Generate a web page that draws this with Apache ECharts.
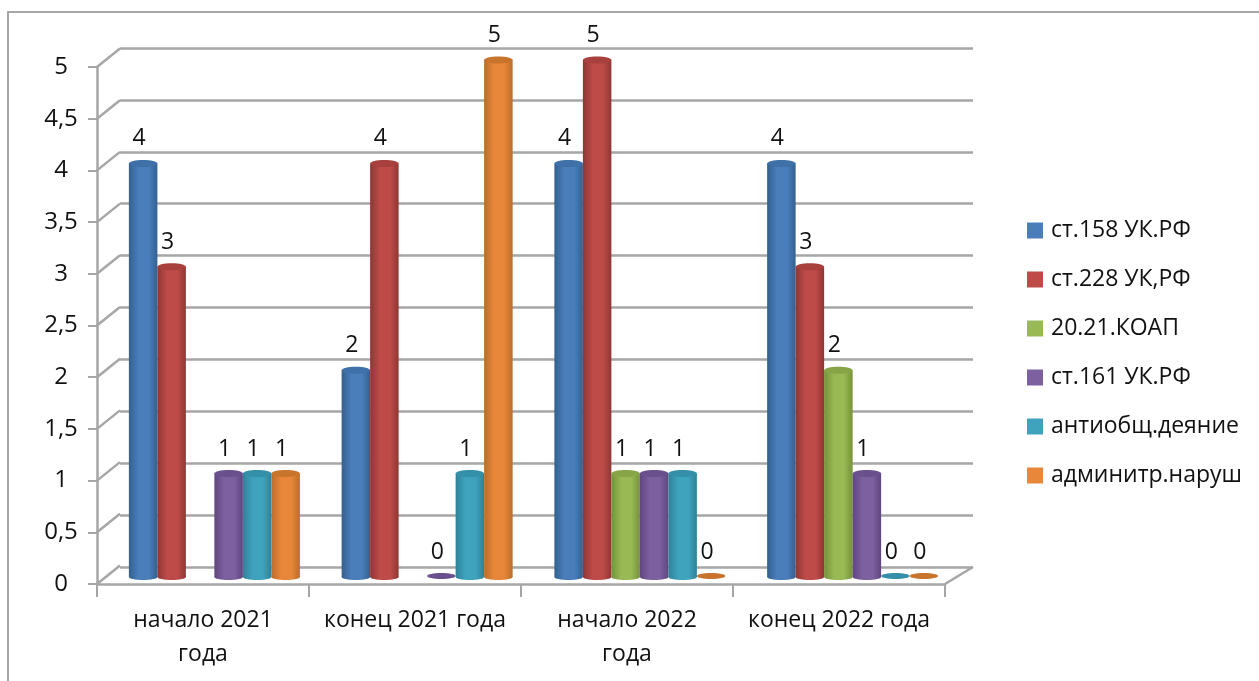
<!DOCTYPE html>
<html><head><meta charset="utf-8">
<style>html,body{margin:0;padding:0;background:#fff}#c{width:1259px;height:681px}</style>
<script src="https://cdn.jsdelivr.net/npm/echarts@6/dist/echarts.min.js"></script>
</head><body><div id="c"></div>
<script>
const categories = ['начало 2021\nгода', 'конец 2021 года', 'начало 2022\nгода', 'конец 2022 года'];
const yTicks = [0, 0.5, 1, 1.5, 2, 2.5, 3, 3.5, 4, 4.5, 5];
const st158 = [4, 2, 4, 4];
const st228 = [3, 4, 5, 3];
const koap = [null, null, 1, 2];
const st161 = [1, 0, 1, 1];
const antiobsh = [1, 1, 1, 0];
const adminit = [1, 5, 0, 0];

const names = ['ст.158 УК.РФ', 'ст.228 УК,РФ', '20.21.КОАП', 'ст.161 УК.РФ', 'антиобщ.деяние', 'админитр.наруш'];
const values = [st158, st228, koap, st161, antiobsh, adminit];
const base = ['#4A7EBB', '#BE4B48', '#98B954', '#7D60A0', '#3FA3BE', '#E8873A'];
const dark = ['#33608F', '#8F3735', '#76923A', '#5F4680', '#2E8299', '#B96D2A'];
const lid = ['#3F70A8', '#A8413E', '#87A547', '#6B508E', '#3490A9', '#C9742C'];
const FONT = '"Open Sans","Noto Sans",sans-serif';
const BAR_W = 28.5;

function cylinder(i) {
  return function (params, api) {
    const cat = api.value(0), v = api.value(1);
    if (isNaN(v)) return;
    const c = api.coord([cat, v]), b = api.coord([cat, 0]);
    const x = c[0] + (i - 2.5) * BAR_W, ry = 3;
    const text = {
      type: 'text', z2: 5,
      style: { text: String(v), x: x - 4, y: c[1] - 24.5, fill: '#111', font: '23px ' + FONT, align: 'center', verticalAlign: 'middle' }
    };
    if (v === 0) {
      return { type: 'group', children: [
        { type: 'ellipse', shape: { cx: x, cy: b[1] - 1, rx: BAR_W / 2, ry: 3 }, style: { fill: lid[i] } }, text ] };
    }
    const grad = { type: 'linear', x: 0, y: 0, x2: 1, y2: 0, colorStops: [
      { offset: 0, color: dark[i] }, { offset: 0.35, color: base[i] }, { offset: 0.7, color: base[i] }, { offset: 1, color: dark[i] } ] };
    return { type: 'group', children: [
      { type: 'ellipse', shape: { cx: x, cy: b[1], rx: BAR_W / 2, ry: ry }, style: { fill: grad } },
      { type: 'rect', shape: { x: x - BAR_W / 2, y: c[1], width: BAR_W, height: b[1] - c[1] }, style: { fill: grad } },
      { type: 'ellipse', shape: { cx: x, cy: c[1], rx: BAR_W / 2, ry: 3.5 }, style: { fill: lid[i] } },
      text ] };
  };
}

const hiddenCat = g => ({ type: 'category', gridIndex: g, data: categories, show: false });
const hiddenVal = g => ({ type: 'value', gridIndex: g, min: 0, max: 5, interval: 0.5, axisLabel: { show: false }, axisLine: { show: false }, axisTick: { show: false },
  splitLine: { show: g === 1, lineStyle: { color: '#A6A6A6', width: 2.5 } } });

const option = {
  animation: false,
  backgroundColor: '#fff',
  textStyle: { fontFamily: FONT },
  graphic: [{ type: 'rect', silent: true, z: -1, shape: { x: 8, y: 12, width: 1300, height: 700 }, style: { fill: 'none', stroke: '#A6A6A6', lineWidth: 2 } }],
  legend: {
    orient: 'vertical', left: 1022, top: 214, itemWidth: 16, itemHeight: 16, itemGap: 26, icon: 'rect',
    textStyle: { fontSize: 23, color: '#111', fontFamily: FONT, padding: [0, 0, 0, 3] },
    data: names
  },
  grid: [
    { left: 97, top: 67, width: 848, height: 517 },
    { left: 120, top: 48, width: 853, height: 519 },
    { left: 108, top: 60, width: 851, height: 517 }
  ],
  xAxis: [
    { type: 'category', gridIndex: 0, data: categories,
      axisLine: { lineStyle: { color: '#A6A6A6', width: 2.5 } },
      axisTick: { show: true, length: 13, alignWithLabel: false, lineStyle: { color: '#A6A6A6', width: 2 } },
      axisLabel: { fontSize: 23, color: '#111', margin: 19, lineHeight: 34, fontFamily: FONT, interval: 0 } },
    hiddenCat(1), hiddenCat(2)
  ],
  yAxis: [
    { type: 'value', gridIndex: 0, min: 0, max: 5, interval: 0.5,
      axisLine: { show: true, lineStyle: { color: '#A6A6A6', width: 2.5 } },
      axisTick: { show: true, length: 9, lineStyle: { color: '#A6A6A6', width: 2 } },
      axisLabel: { fontSize: 24, color: '#111', margin: 36, align: 'center', fontFamily: FONT, formatter: v => String(v).replace('.', ',') },
      splitLine: { show: false } },
    hiddenVal(1), hiddenVal(2)
  ],
  series: [
    { type: 'custom', name: 'wall', xAxisIndex: 0, yAxisIndex: 0, silent: true, z: 1, clip: false,
      data: yTicks.map(v => [0, v]),
      renderItem: function (params, api) {
        const cs = params.coordSys, y = api.coord([0, api.value(1)])[1];
        const ls = { stroke: '#A6A6A6', lineWidth: 2.5, fill: 'none' };
        const kids = [{ type: 'line', shape: { x1: cs.x, y1: y, x2: cs.x + 23, y2: y - 18.5 }, style: ls }];
        if (api.value(1) === 0) kids.push({ type: 'line', shape: { x1: cs.x + cs.width, y1: y, x2: cs.x + cs.width + 28, y2: y - 17 }, style: ls });
        return { type: 'group', children: kids };
      } }
  ].concat(names.map((name, i) => ({
    type: 'custom', name: name, xAxisIndex: 2, yAxisIndex: 2, z: 3, clip: false,
    itemStyle: { color: base[i] },
    encode: { x: 0, y: 1 },
    data: values[i].map((v, c) => [c, v]).filter(d => d[1] !== null),
    renderItem: cylinder(i)
  })))
};
echarts.init(document.getElementById('c'), null, { renderer: 'canvas' }).setOption(option);
</script></body></html>
